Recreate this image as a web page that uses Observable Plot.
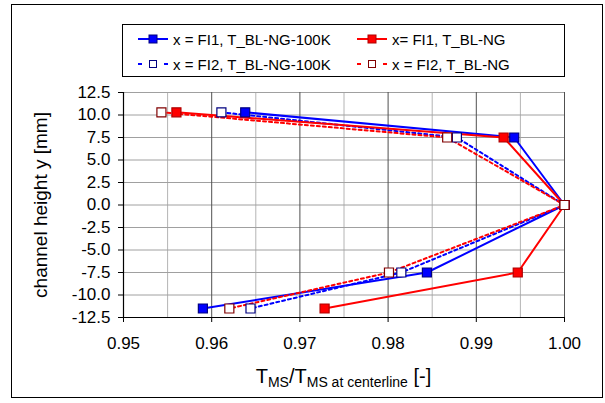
<!DOCTYPE html>
<html><head><meta charset="utf-8">
<script src="https://cdn.jsdelivr.net/npm/d3@7"></script>
<script src="https://cdn.jsdelivr.net/npm/@observablehq/plot@0.6"></script>
<style>
body{margin:0;background:#fff;font-family:"Liberation Sans",Arial,sans-serif;}
#wrap{position:relative;width:605px;height:403px;overflow:hidden;background:#fff;}
#wrap svg.plot{position:absolute;left:0;top:0;}
#frame{position:absolute;left:11px;top:4px;width:592px;height:394px;border:1.5px solid #000;box-sizing:border-box;pointer-events:none;}
#legend{position:absolute;left:122px;top:24px;width:443px;height:53px;border:1px solid #000;box-sizing:border-box;background:#fff;}
.item{position:absolute;display:flex;align-items:center;font-size:15px;white-space:nowrap;height:20px;color:#000;}
.item svg{margin-right:5px;flex:none;}
#xtitle{position:absolute;left:123px;width:441px;top:366px;text-align:center;font-size:20px;line-height:20px;white-space:nowrap;}
#xtitle span{font-size:14px;vertical-align:-4px;line-height:0;}
</style>
</head><body>
<div id="wrap"></div>
<script>
// ---- data ----
const heights = [10.3, 7.5, 0, -7.5, -11.5];            // channel height y [mm]
const fi1_100K = [0.9638, 0.9943, 1.0, 0.9844, 0.9590]; // x = FI1, T_BL-NG-100K
const fi1_NG   = [0.9560, 0.9931, 1.0, 0.9947, 0.9728]; // x= FI1, T_BL-NG
const fi2_100K = [0.9611, 0.9878, 1.0, 0.9815, 0.9644]; // x = FI2, T_BL-NG-100K
const fi2_NG   = [0.9543, 0.9867, 1.0, 0.9801, 0.9620]; // x = FI2, T_BL-NG
const xTicks = [0.95, 0.96, 0.97, 0.98, 0.99, 1.00];
const xMinor = [0.955, 0.965, 0.975, 0.985, 0.995];
const yTicks = [-12.5, -10.0, -7.5, -5.0, -2.5, 0.0, 2.5, 5.0, 7.5, 10.0, 12.5];
const seriesNames = ["x = FI1, T_BL-NG-100K", "x= FI1, T_BL-NG", "x = FI2, T_BL-NG-100K", "x = FI2, T_BL-NG"];
const yTitle = "channel height y [mm]";

const BLUE = "#0000ff", RED = "#ff0000", NAVY = "#000080", MAROON = "#800000";
const rows = vals => heights.map((h, i) => ({x: vals[i], y: h}));

const series = [
  {vals: fi1_100K, line: BLUE, dash: null, fill: BLUE, mstroke: NAVY},
  {vals: fi2_100K, line: BLUE, dash: "3,3", fill: "#fff", mstroke: NAVY},
  {vals: fi1_NG,   line: RED,  dash: null, fill: RED, mstroke: "#b00000"},
  {vals: fi2_NG,   line: RED,  dash: "3,3", fill: "#fff", mstroke: MAROON}
];

const marks = [
  Plot.ruleX(xMinor, {stroke: "#b4b4b4", strokeWidth: 1}),
  Plot.ruleY(yTicks, {stroke: "#a0a0a0", strokeWidth: 1}),
  Plot.ruleX(xTicks, {stroke: "#505050", strokeWidth: 1}),
  Plot.ruleX([xTicks[0]], {stroke: "#000", strokeWidth: 1.2}),
  Plot.ruleY([yTicks[0]], {stroke: "#000", strokeWidth: 1.2}),
  Plot.axisX({ticks: xTicks, tickFormat: d => d.toFixed(2), tickSize: 5, tickPadding: 14, label: null, fontSize: 17}),
  Plot.axisY({ticks: yTicks, tickFormat: d => d.toFixed(1), tickSize: 5, tickPadding: 8, label: null, fontSize: 17}),
  Plot.text([yTitle], {frameAnchor: "left", textAnchor: "middle", lineAnchor: "middle", rotate: -90, dx: -83, fontSize: 19, text: d => d, fill: "#000"})
];
for (const s of series) {
  marks.push(Plot.line(rows(s.vals), {x: "x", y: "y", stroke: s.line, strokeWidth: 2, strokeDasharray: s.dash}));
}
for (const s of series) {
  marks.push(Plot.dot(rows(s.vals), {x: "x", y: "y", symbol: "square", r: 5.1, fill: s.fill, stroke: s.mstroke, strokeWidth: 1.2}));
}

const chart = Plot.plot({
  width: 605, height: 403,
  marginLeft: 123, marginRight: 41, marginTop: 92, marginBottom: 86,
  style: {fontFamily: '"Liberation Sans", Arial, sans-serif', color: "#000", background: "transparent"},
  x: {domain: [0.95, 1.0]},
  y: {domain: [-12.5, 12.5]},
  marks
});
chart.classList.add("plot");
const wrap = document.getElementById("wrap");
wrap.appendChild(chart);

// frame
const frame = document.createElement("div"); frame.id = "frame"; wrap.appendChild(frame);

// legend
const legend = document.createElement("div"); legend.id = "legend"; wrap.appendChild(legend);
const legendPos = [[15, 4], [234, 4], [15, 29], [234, 29]];
const legendOrder = [0, 2, 1, 3]; // seriesNames index -> series index
seriesNames.forEach((name, i) => {
  const s = series[legendOrder[i]];
  const item = document.createElement("div");
  item.className = "item";
  item.style.left = legendPos[i][0] + "px";
  item.style.top = legendPos[i][1] + "px";
  let svg;
  if (!s.dash) {
    svg = `<svg width="30" height="14"><line x1="0" x2="30" y1="7" y2="7" stroke="${s.line}" stroke-width="2"/><rect x="11" y="3" width="8" height="8" fill="${s.fill}" stroke="${s.mstroke}" stroke-width="1"/></svg>`;
  } else {
    svg = `<svg width="30" height="14"><line x1="0" x2="4" y1="7" y2="7" stroke="${s.line}" stroke-width="2"/><line x1="26" x2="30" y1="7" y2="7" stroke="${s.line}" stroke-width="2"/><rect x="11.5" y="3.5" width="7" height="7" fill="${s.fill}" stroke="${s.mstroke}" stroke-width="1"/></svg>`;
  }
  item.innerHTML = svg + `<span>${name}</span>`;
  legend.appendChild(item);
});

// x axis title with subscripts
const xt = document.createElement("div");
xt.id = "xtitle";
xt.innerHTML = 'T<span>MS</span>/T<span>MS at centerline</span> [-]';
wrap.appendChild(xt);
</script>
</body></html>
